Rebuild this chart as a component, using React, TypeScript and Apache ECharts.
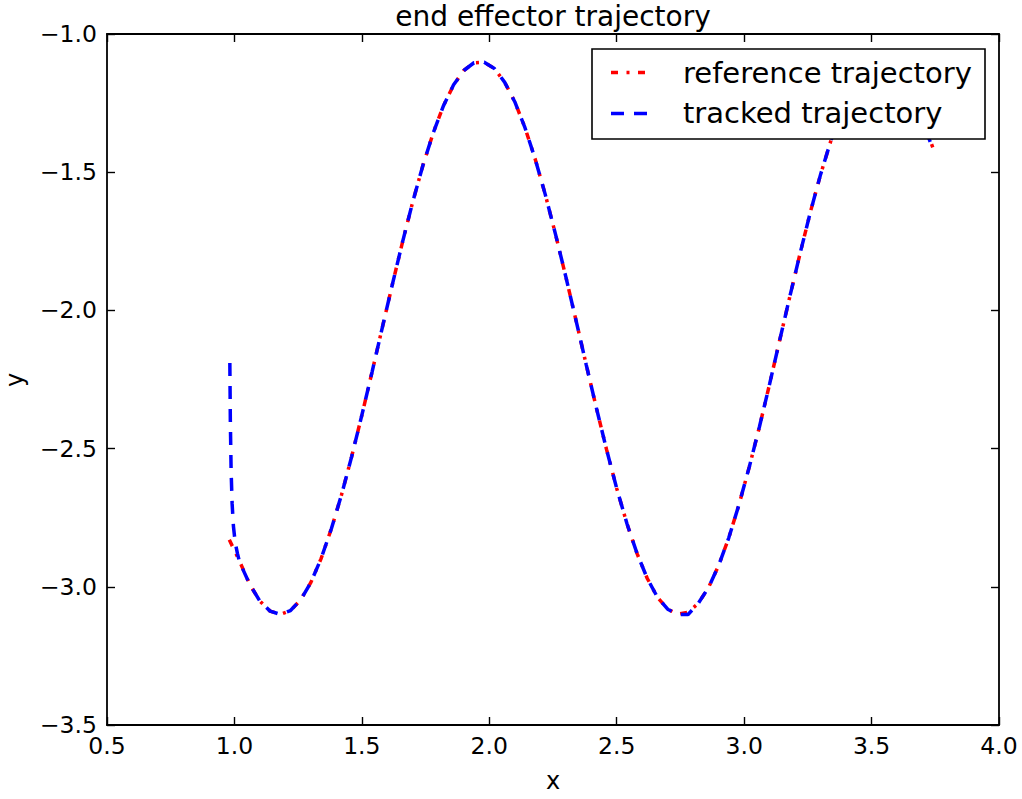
import React, { useEffect, useRef } from "react";
import * as echarts from "echarts";

// Reference trajectory samples (x, y)
const refX = [
  0.98, 1.02, 1.06, 1.1, 1.14, 1.18, 1.22, 1.26, 1.3, 1.34,
  1.38, 1.42, 1.46, 1.5, 1.54, 1.58, 1.62, 1.66, 1.7, 1.74,
  1.78, 1.82, 1.86, 1.9, 1.94, 1.98, 2.02, 2.06, 2.1, 2.14,
  2.18, 2.22, 2.26, 2.3, 2.34, 2.38, 2.42, 2.46, 2.5, 2.54,
  2.58, 2.62, 2.66, 2.7, 2.74, 2.78, 2.82, 2.86, 2.9, 2.94,
  2.98, 3.02, 3.06, 3.1, 3.14, 3.18, 3.22, 3.26, 3.3, 3.34,
  3.38, 3.42, 3.46, 3.5, 3.54, 3.58, 3.62, 3.66, 3.7, 3.74,
];
const refY = [
  -2.83, -2.907, -2.991, -3.052, -3.088, -3.1, -3.086, -3.047, -2.984, -2.898,
  -2.791, -2.668, -2.529, -2.379, -2.223, -2.063, -1.905, -1.751, -1.606, -1.474,
  -1.358, -1.26, -1.184, -1.132, -1.104, -1.102, -1.125, -1.174, -1.245, -1.339,
  -1.452, -1.582, -1.725, -1.877, -2.035, -2.195, -2.352, -2.503, -2.644, -2.771,
  -2.88, -2.97, -3.038, -3.081, -3.099, -3.092, -3.06, -3.003, -2.923, -2.822,
  -2.702, -2.567, -2.421, -2.266, -2.106, -1.947, -1.792, -1.644, -1.508, -1.387,
  -1.284, -1.203, -1.144, -1.109, -1.1, -1.117, -1.158, -1.224, -1.312, -1.41,
];

// Tracked trajectory samples (x, y)
const trackX = [
  0.982, 0.984, 0.987, 0.991, 0.996, 1.003, 1.012, 1.02,
  1.06, 1.1, 1.14, 1.18, 1.22, 1.26, 1.3, 1.34,
  1.38, 1.42, 1.46, 1.5, 1.54, 1.58, 1.62, 1.66, 1.7, 1.74,
  1.78, 1.82, 1.86, 1.9, 1.94, 1.98, 2.02, 2.06, 2.1, 2.14,
  2.18, 2.22, 2.26, 2.3, 2.34, 2.38, 2.42, 2.46, 2.5, 2.54,
  2.58, 2.62, 2.66, 2.7, 2.74, 2.78, 2.82, 2.86, 2.9, 2.94,
  2.98, 3.02, 3.06, 3.1, 3.14, 3.18, 3.22, 3.26, 3.3, 3.34,
  3.38, 3.42, 3.46, 3.5, 3.54, 3.58, 3.62, 3.66, 3.7, 3.73,
];
const trackY = [
  -2.19, -2.4, -2.58, -2.7, -2.78, -2.84, -2.88, -2.91,
  -2.991, -3.052, -3.088, -3.1, -3.086, -3.047, -2.984, -2.898,
  -2.791, -2.668, -2.529, -2.379, -2.223, -2.063, -1.905, -1.751, -1.606, -1.474,
  -1.358, -1.26, -1.184, -1.132, -1.104, -1.102, -1.125, -1.174, -1.245, -1.339,
  -1.452, -1.582, -1.725, -1.877, -2.035, -2.195, -2.352, -2.503, -2.644, -2.771,
  -2.88, -2.97, -3.038, -3.081, -3.1, -3.1, -3.06, -3.003, -2.923, -2.822,
  -2.702, -2.567, -2.421, -2.266, -2.106, -1.947, -1.792, -1.644, -1.508, -1.387,
  -1.284, -1.203, -1.144, -1.109, -1.1, -1.117, -1.158, -1.224, -1.312, -1.39,
];

const seriesNames = ["reference trajectory", "tracked trajectory"];
const titleText = "end effector trajectory";
const xName = "x";
const yName = "y";

const FONT = "DejaVu Sans";
const RED_DASH = [7, 8.5, 3, 8.5];
const BLUE_DASH = [13, 10];

const fmt = (v: number) =>
  v < 0 ? "\u2212" + Math.abs(v).toFixed(1) : v.toFixed(1);

export default function App() {
  const ref = useRef<HTMLDivElement>(null);

  useEffect(() => {
    if (!ref.current) return;
    const chart = echarts.init(ref.current, undefined, { renderer: "svg" });

    const gridLeft = 107;
    const gridTop = 34;
    const gridW = 892;
    const gridH = 691;

    const axisLine = { show: true, onZero: false, lineStyle: { color: "#000", width: 1.8 } };
    const axisTick = { show: true, inside: true, length: 8, lineStyle: { color: "#000", width: 1.4 } };
    const labelStyle = { color: "#000", fontFamily: FONT, fontSize: 23.5 };

    const xBase = { type: "value" as const, min: 0.5, max: 4.0, interval: 0.5, splitLine: { show: false }, axisLine, axisTick };
    const yBase = { type: "value" as const, min: -3.5, max: -1.0, interval: 0.5, splitLine: { show: false }, axisLine, axisTick };

    const legX = 592;
    const legY = 49;

    chart.setOption({
      animation: false,
      backgroundColor: "#fff",
      grid: { left: gridLeft, top: gridTop, width: gridW, height: gridH, containLabel: false },
      xAxis: [
        { ...xBase, position: "bottom", axisLabel: { ...labelStyle, margin: 9, formatter: fmt } },
        { ...xBase, position: "top", axisLabel: { show: false } },
      ],
      yAxis: [
        { ...yBase, position: "left", axisLabel: { ...labelStyle, margin: 10, formatter: fmt } },
        { ...yBase, position: "right", axisLabel: { show: false } },
      ],
      series: [
        {
          name: seriesNames[0],
          type: "line",
          xAxisIndex: 0,
          yAxisIndex: 0,
          data: refX.map((x, i) => [x, refY[i]]),
          showSymbol: false,
          symbol: "none",
          lineStyle: { color: "#ff0000", width: 3.5, type: RED_DASH },
          z: 2,
        },
        {
          name: seriesNames[1],
          type: "line",
          xAxisIndex: 0,
          yAxisIndex: 0,
          data: trackX.map((x, i) => [x, trackY[i]]),
          showSymbol: false,
          symbol: "none",
          lineStyle: { color: "#0000ff", width: 3.5, type: BLUE_DASH },
          z: 3,
        },
      ],
      graphic: [
        {
          type: "text",
          x: 553,
          y: 16,
          style: { text: titleText, fill: "#000", font: `28px "${FONT}"`, textAlign: "center", textVerticalAlign: "middle" },
        },
        {
          type: "text",
          x: 553,
          y: 781,
          style: { text: xName, fill: "#000", font: `24px "${FONT}"`, textAlign: "center", textVerticalAlign: "middle" },
        },
        {
          type: "text",
          x: 15,
          y: 380,
          rotation: Math.PI / 2,
          style: { text: yName, fill: "#000", font: `24px "${FONT}"`, textAlign: "center", textVerticalAlign: "middle" },
        },
        {
          type: "group",
          z: 100,
          children: [
            {
              type: "rect",
              z: 100,
              shape: { x: legX, y: legY, width: 393, height: 90 },
              style: { fill: "#fff", stroke: "#000", lineWidth: 1.6 },
            },
            {
              type: "line",
              z: 101,
              shape: { x1: 611, y1: 72.5, x2: 648, y2: 72.5 },
              style: { stroke: "#ff0000", lineWidth: 3.5, lineDash: RED_DASH },
            },
            {
              type: "line",
              z: 101,
              shape: { x1: 611, y1: 113.5, x2: 648, y2: 113.5 },
              style: { stroke: "#0000ff", lineWidth: 3.5, lineDash: BLUE_DASH },
            },
            {
              type: "text",
              z: 101,
              x: 683,
              y: 72.5,
              style: { text: seriesNames[0], fill: "#000", font: `29px "${FONT}"`, textAlign: "left", textVerticalAlign: "middle" },
            },
            {
              type: "text",
              z: 101,
              x: 683,
              y: 112.5,
              style: { text: seriesNames[1], fill: "#000", font: `29px "${FONT}"`, textAlign: "left", textVerticalAlign: "middle" },
            },
          ],
        },
      ],
    });

    return () => chart.dispose();
  }, []);

  return (
    <div
      ref={ref}
      style={{ position: "absolute", left: 0, top: 0, width: 1022, height: 799 }}
    />
  );
}
